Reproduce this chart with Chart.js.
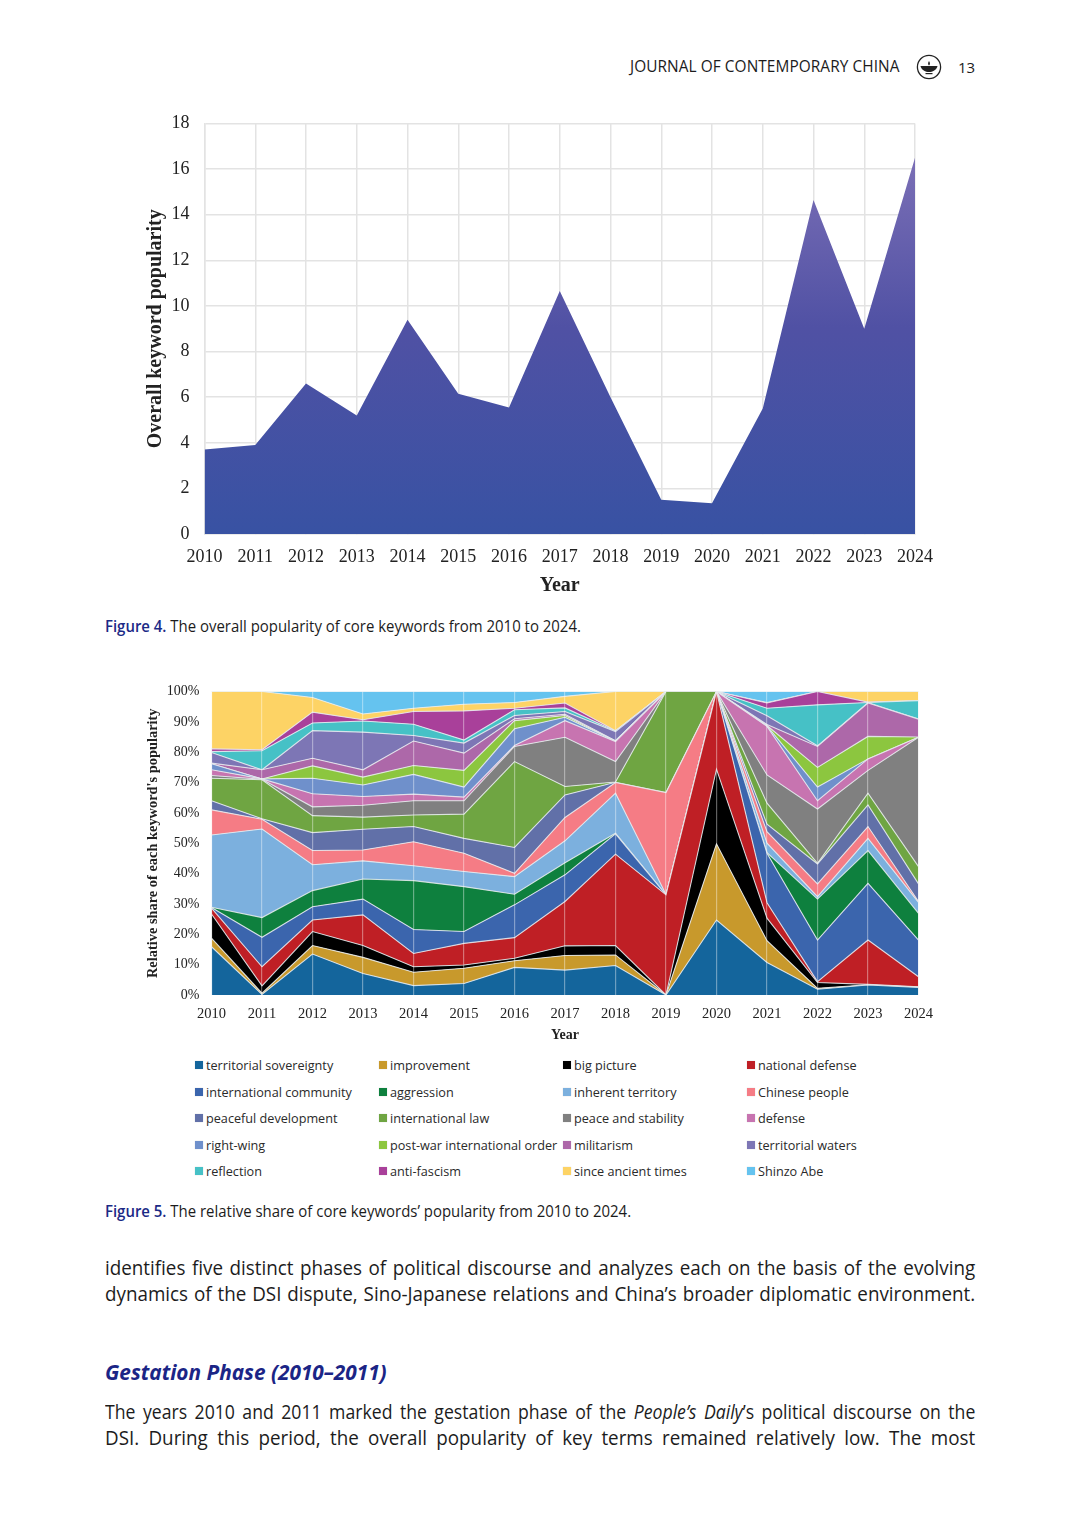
<!DOCTYPE html>
<html>
<head>
<meta charset="utf-8">
<title>Journal of Contemporary China p. 13</title>
<script src="https://cdn.jsdelivr.net/npm/chart.js@4"></script>
<style>
html, body { margin: 0; background: #fff; }
body { position: relative; width: 1080px; height: 1539px; overflow: hidden; color: #1c1c1c; font-family: "Open Sans", sans-serif; }
.abs { position: absolute; white-space: nowrap; }
.squeeze { transform-origin: left top; }
.caption { font-size: 15.6px; line-height: 20px; left: 105px; transform: scaleX(.958); }
.caption b { color: #1b2a86; font-weight: 600; }
.line { left: 105px; width: 888px; font-size: 19.2px; line-height: 26px; text-align: justify; text-align-last: justify; white-space: normal; transform: scaleX(.98); }
.line.tight { width: 946px; transform: scaleX(.92); }
.heading { left: 105px; font-size: 20.8px; line-height: 26px; font-weight: 700; font-style: italic; color: #1b2586; transform: scaleX(1); }
.legend-item { font-size: 13.3px; line-height: 16px; color: #2a2a2a; transform: scaleX(.952); }
.swatch { position: absolute; width: 8px; height: 8px; box-shadow: 0 0 1px #ccc; }
canvas { position: absolute; }
</style>
</head>
<body>
<div class="abs squeeze" style="left:630px;top:57px;font-size:15.4px;line-height:20px;letter-spacing:.07px">JOURNAL OF CONTEMPORARY CHINA</div>
<svg class="abs" style="left:916px;top:54px" width="26" height="26" viewBox="0 0 26 26">
  <circle cx="13" cy="13" r="11.6" fill="#fff" stroke="#222" stroke-width="1.3"/>
  <path d="M4.5 12 H21.5 C20.5 16 16.5 18 13 18 C9.5 18 5.5 16 4.5 12 Z" fill="#222"/>
  <path d="M13 7 C14.5 9 14 10.5 13 11.5 C12 10.5 11.5 9 13 7 Z" fill="#222"/>
  <rect x="9.5" y="19" width="7" height="1.2" fill="#222"/>
</svg>
<div class="abs" style="left:958px;top:57px;font-size:15px;line-height:20px">13</div>

<canvas id="overallChart" style="left:130px;top:110px" width="830" height="490"></canvas>
<div class="abs squeeze caption" style="top:616px"><b>Figure 4.</b> The overall popularity of core keywords from 2010 to 2024.</div>

<canvas id="shareChart" style="left:130px;top:680px" width="820" height="370"></canvas>
<div id="legend"></div>
<div class="abs squeeze caption" style="top:1201px"><b>Figure 5.</b> The relative share of core keywords’ popularity from 2010 to 2024.</div>

<div class="abs squeeze line" style="top:1255px">identifies five distinct phases of political discourse and analyzes each on the basis of the evolving</div>
<div class="abs squeeze line" style="top:1281px">dynamics of the DSI dispute, Sino-Japanese relations and China’s broader diplomatic environment.</div>
<div class="abs squeeze heading" style="top:1359px">Gestation Phase (2010–2011)</div>
<div class="abs squeeze line tight" style="top:1399px">The years 2010 and 2011 marked the gestation phase of the <i>People’s Daily</i>’s political discourse on the</div>
<div class="abs squeeze line" style="top:1425px">DSI. During this period, the overall popularity of key terms remained relatively low. The most</div>

<script>
const years = ['2010','2011','2012','2013','2014','2015','2016','2017','2018','2019','2020','2021','2022','2023','2024'];

// Figure 4
const overallPopularity = [3.7, 3.9, 6.6, 5.2, 9.4, 6.15, 5.55, 10.65, 6, 1.5, 1.35, 5.5, 14.65, 9, 16.5];

// Figure 5, share of each keyword per year (%)
const territorialSovereignty = [15.9,0.2,13.5,7.1,3.1,3.8,9.1,8.2,9.7,0,24.7,10.7,1.9,3.3,2.5];
const improvement = [2.8,0.4,2.8,5.3,4.4,5.0,2.2,4.8,3.5,0,25.1,7.2,0.3,0.1,0.1];
const bigPicture = [8.0,2.4,4.6,3.9,1.8,1.1,0.8,3.2,3.1,0,24.6,7.4,1.9,0.1,0.1];
const nationalDefense = [1.9,6.3,3.8,10.1,4.4,7.1,6.8,14.6,30.1,33,25.6,5.1,0.3,14.6,3.3];
const internationalCommunity = [0.2,9.7,4.4,5.2,7.9,3.9,10.8,8.8,6.7,0,0,16.3,13.7,18.7,12.1];
const aggression = [0.1,6.5,5.3,6.6,16.1,14.8,3.5,4,0.2,0,0,0.2,13.5,10.8,8.8];
const inherentTerritory = [23.8,29.2,8.5,6,4.9,5,5.8,7.2,13.2,0.1,0,3.1,0.8,4,3.6];
const chinesePeople = [8.3,3.2,4.7,3.6,7.9,6,1.1,7.7,3.5,33.6,0,3.8,4.2,3.9,0.3];
const peacefulDevelopment = [3,0.2,5.9,6.8,5,4.9,8.5,7.4,0.1,0,0,2.5,6.6,7.1,5.8];
const internationalLaw = [7.4,12.8,5.6,4,3.8,8,28.3,2.8,0.1,33.3,0,6.9,0.2,3.9,5.7];
const peaceAndStability = [0.9,0.2,2.9,3.9,4.7,4.4,5,16.2,6.7,0,0,9.3,17.9,7.5,42.6];
const defense = [1.9,0.1,4.3,2.9,2.2,1.2,0.3,5.5,6.6,0,0,16,2.7,3.8,0];
const rightWing = [2,0,5.1,3.8,6.5,3.3,5.5,1.1,0.2,0,0,0.2,4.5,0,0];
const postWarOrder = [0,0,4.1,2.6,2.9,5.5,2.7,0.6,0,0,0,0.1,6.5,7.4,0.1];
const militarism = [0.2,3,2.5,2.4,8.1,5.7,0.6,0.4,0.1,0,0,0.3,6.9,11,5.9];
const territorialWaters = [3.5,0,9.1,12.4,1.8,3.3,1.1,0.9,3,0,0,2.9,0.2,0.1,0];
const reflection = [0.3,6.3,2.5,3.7,3.7,1,1.9,1.2,0.2,0,0,2.5,13.5,0.1,6.1];
const antiFascism = [0.9,0.3,3.6,0.4,4.2,9.6,0.5,1.6,0.1,0,0,1.7,4.4,0.1,0];
const sinceAncientTimes = [18.9,19.2,4.8,1.9,1.1,2.2,1.9,2.2,12.9,0,0,0.2,0,3.5,3];
const shinzoAbe = [0,0,2,7.4,5.5,4.2,3.6,1.6,0,0,0,3.6,0,0,0];

const keywordNames = ['territorial sovereignty','improvement','big picture','national defense',
  'international community','aggression','inherent territory','Chinese people',
  'peaceful development','international law','peace and stability','defense',
  'right-wing','post-war international order','militarism','territorial waters',
  'reflection','anti-fascism','since ancient times','Shinzo Abe'];
const keywordColors = ['#14659c','#c8992c','#000000','#bf1f25',
  '#3b65ad','#0e803e','#7cb0de','#f57c85',
  '#6170a8','#6fa542','#808080','#c774b0',
  '#6f90cb','#8cc63f','#ad68a9','#7d76b5',
  '#46c1c6','#a9409a','#fdd365','#65c3ef'];
const keywordShares = [territorialSovereignty, improvement, bigPicture, nationalDefense,
  internationalCommunity, aggression, inherentTerritory, chinesePeople,
  peacefulDevelopment, internationalLaw, peaceAndStability, defense,
  rightWing, postWarOrder, militarism, territorialWaters,
  reflection, antiFascism, sinceAncientTimes, shinzoAbe];

const serif = '"Liberation Serif", serif';

// keeps the plot area where the padding puts it, tick labels may overhang
function fixAxisWidth(width) {
  return (scale) => {
    scale.width = width;
    scale.paddingTop = 0;
    scale.paddingBottom = 0;
  };
}

new Chart(document.getElementById('overallChart'), {
  type: 'line',
  data: {
    labels: years,
    datasets: [{
      data: overallPopularity,
      fill: 'origin',
      borderWidth: 0,
      pointRadius: 0,
      tension: 0,
      backgroundColor: (ctx) => {
        const { chart } = ctx;
        if (!chart.chartArea) return '#3852a3';
        const y0 = chart.scales.y.getPixelForValue(0);
        const y1 = chart.scales.y.getPixelForValue(Math.max(...overallPopularity));
        const g = chart.ctx.createLinearGradient(0, y0, 0, y1);
        g.addColorStop(0, '#3852a3');
        g.addColorStop(0.55, '#5051a4');
        g.addColorStop(1, '#7b6fb6');
        return g;
      }
    }]
  },
  options: {
    responsive: false,
    animation: false,
    layout: { padding: { top: 13.5, right: 45 } },
    plugins: { legend: { display: false }, tooltip: { enabled: false } },
    scales: {
      x: {
        offset: false,
        afterFit: (scale) => { scale.height = 66; },
        grid: { color: '#e3e3e3', lineWidth: 1.5, tickLength: 0 },
        border: { color: '#e3e3e3', width: 1.5 },
        ticks: { color: '#222', font: { family: serif, size: 18 }, padding: 12, maxRotation: 0, autoSkip: false },
        title: { display: true, text: 'Year', color: '#222', font: { family: serif, size: 20, weight: 'bold' }, padding: 2 }
      },
      y: {
        min: 0,
        max: 18,
        afterFit: fixAxisWidth(74.5),
        grid: { color: '#e3e3e3', lineWidth: 1.5, tickLength: 0 },
        border: { color: '#e3e3e3', width: 1.5 },
        ticks: { stepSize: 2, color: '#222', font: { family: serif, size: 18 }, padding: 15 },
        title: { display: true, text: 'Overall keyword popularity', color: '#222', font: { family: serif, size: 20, weight: 'bold' }, padding: 14 }
      }
    }
  }
});

new Chart(document.getElementById('shareChart'), {
  type: 'line',
  data: {
    labels: years,
    datasets: keywordNames.map((name, i) => ({
      label: name,
      data: keywordShares[i],
      fill: i === 0 ? 'origin' : '-1',
      backgroundColor: keywordColors[i],
      borderColor: 'rgba(232,236,240,.85)',
      borderWidth: 1.1,
      pointRadius: 0,
      tension: 0
    }))
  },
  options: {
    responsive: false,
    animation: false,
    layout: { padding: { top: 11.5, right: 31.5 } },
    plugins: { legend: { display: false }, tooltip: { enabled: false } },
    scales: {
      x: {
        offset: false,
        afterFit: (scale) => { scale.height = 55; },
        grid: { color: 'rgba(255,255,255,.38)', lineWidth: 1.2, tickLength: 0, z: 1 },
        border: { display: false },
        ticks: { color: '#222', font: { family: serif, size: 14.5 }, padding: 10, maxRotation: 0, autoSkip: false },
        title: { display: true, text: 'Year', color: '#222', font: { family: serif, size: 14, weight: 'bold' }, padding: 6.6 }
      },
      y: {
        stacked: true,
        min: 0,
        max: 100,
        afterFit: fixAxisWidth(81.5),
        grid: { display: false, tickLength: 0 },
        border: { display: false },
        ticks: { stepSize: 10, color: '#222', font: { family: serif, size: 14 }, padding: 12, callback: (v) => v + '%' },
        title: { display: true, text: "Relative share of each keyword's popularity", color: '#222', font: { family: serif, size: 14.4, weight: 'bold' }, padding: 15 }
      }
    }
  }
});

// legend: four columns, five rows
const legendX = [195, 379, 563, 747];
const legendY = [1065, 1092, 1118, 1145, 1171];
const legendBox = document.getElementById('legend');
keywordNames.forEach((name, i) => {
  const x = legendX[i % 4];
  const y = legendY[Math.floor(i / 4)];
  const swatch = document.createElement('div');
  swatch.className = 'swatch';
  swatch.style.cssText = `left:${x}px;top:${y - 4}px;background:${keywordColors[i]}`;
  const label = document.createElement('div');
  label.className = 'abs squeeze legend-item';
  label.style.cssText = `left:${x + 11}px;top:${y - 8}px`;
  label.textContent = name;
  legendBox.append(swatch, label);
});
</script>
</body>
</html>
